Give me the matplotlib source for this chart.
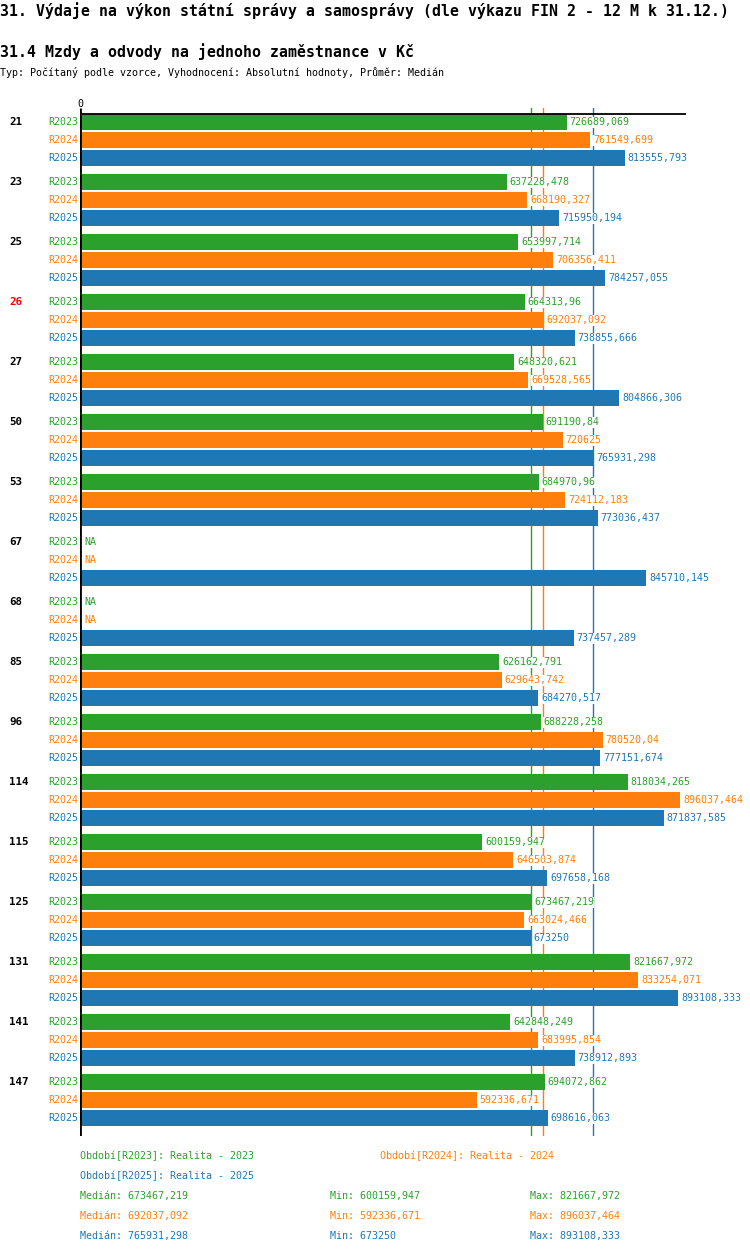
import numpy as np
import matplotlib
matplotlib.use("Agg")
import matplotlib.pyplot as plt

plt.rcParams['font.family'] = ['DejaVu Sans Mono']

# data
groups = ['21', '23', '25', '26', '27', '50', '53', '67', '68', '85', '96',
          '114', '115', '125', '131', '141', '147']
highlight = ['26']
series = ['R2023', 'R2024', 'R2025']
series_names = ['Realita - 2023', 'Realita - 2024', 'Realita - 2025']
colors = ['#2ca02c', '#ff7f0e', '#1f77b4']

r2023 = [726689.069, 637228.478, 653997.714, 664313.96, 648320.621, 691190.84,
         684970.96, np.nan, np.nan, 626162.791, 688228.258, 818034.265,
         600159.947, 673467.219, 821667.972, 642848.249, 694072.862]
r2024 = [761549.699, 668190.327, 706356.411, 692037.092, 669528.565, 720625,
         724112.183, np.nan, np.nan, 629643.742, 780520.04, 896037.464,
         646503.874, 663024.466, 833254.071, 683995.854, 592336.671]
r2025 = [813555.793, 715950.194, 784257.055, 738855.666, 804866.306, 765931.298,
         773036.437, 845710.145, 737457.289, 684270.517, 777151.674, 871837.585,
         697658.168, 673250, 893108.333, 738912.893, 698616.063]
values = [r2023, r2024, r2025]

W, H = 750, 1254


def fmt(v):
    s = f"{v:.3f}".rstrip('0').rstrip('.')
    return s.replace('.', ',')


def fx(px):
    return px / W


def fy(py):
    return 1 - py / H


fig = plt.figure(figsize=(7.5, 12.54), dpi=100)

# axes in pixel units: x from 80 to 686, y from 108 to 1136
ax_top, ax_bot = 108, 1136
ax = fig.add_axes([fx(80), fy(ax_bot), fx(686) - fx(80), (ax_bot - ax_top) / H])
ax.set_xlim(0, 905000)
ax.set_ylim(ax_bot - 114, ax_top - 114)
ax.axis('off')

# axis lines
ax.plot([0, 0], [ax_top - 114, ax_bot - 114], color='black', lw=2, zorder=5,
        solid_capstyle='butt')
ax.axhline(0, color='black', lw=1.3, zorder=5)
ax.text(0, -5, '0', ha='center', va='bottom', fontsize=7.2)

# median lines
for vals, c in zip(values, colors):
    ax.axvline(np.nanmedian(vals), color=c, lw=1, zorder=1)

group_step, bar_step, bar_h = 60, 18, 16
for i, g in enumerate(groups):
    y0 = 8 + group_step * i
    ax.annotate(g, xy=(0, y0), xycoords=('axes fraction', 'data'),
                xytext=(-71, 0), textcoords='offset pixels',
                ha='left', va='center', fontsize=7.8, fontweight='bold',
                color='red' if g in highlight else 'black')
    for j, (s, vals, c) in enumerate(zip(series, values, colors)):
        y = y0 + bar_step * j
        ax.annotate(s, xy=(0, y), xycoords=('axes fraction', 'data'),
                    xytext=(-2, 0), textcoords='offset pixels',
                    ha='right', va='center', fontsize=7.2, color=c)
        v = vals[i]
        if np.isnan(v):
            ax.annotate('NA', xy=(0, y), xycoords='data',
                        xytext=(4, 0), textcoords='offset pixels',
                        ha='left', va='center', fontsize=7.2, color=c)
            continue
        ax.barh(y, v, height=bar_h, color=c, zorder=3)
        ax.annotate(fmt(v), xy=(v, y), xycoords='data',
                    xytext=(3, 0), textcoords='offset pixels',
                    ha='left', va='center', fontsize=7.2, color=c, zorder=4,
                    bbox=dict(boxstyle='square,pad=0.05', fc='white', ec='none'))

# titles
fig.text(fx(0), fy(11), '31. Výdaje na výkon státní správy a samosprávy (dle výkazu FIN 2 - 12 M k 31.12.)',
         ha='left', va='center', fontsize=10.75, fontweight='bold')
fig.text(fx(0), fy(52), '31.4 Mzdy a odvody na jednoho zaměstnance v Kč',
         ha='left', va='center', fontsize=10.75, fontweight='bold')
fig.text(fx(0), fy(73), 'Typ: Počítaný podle vzorce, Vyhodnocení: Absolutní hodnoty, Průměr: Medián',
         ha='left', va='center', fontsize=7.2)

# legend / summary
leg_pos = [(80, 1156), (380, 1156), (80, 1176)]
for (px, py), s, name, c in zip(leg_pos, series, series_names, colors):
    fig.text(fx(px), fy(py), f'Období[{s}]: {name}', ha='left', va='center',
             fontsize=7.2, color=c)

for k, (vals, c) in enumerate(zip(values, colors)):
    py = 1196 + 20 * k
    fig.text(fx(80), fy(py), f'Medián: {fmt(np.nanmedian(vals))}', ha='left',
             va='center', fontsize=7.2, color=c)
    fig.text(fx(330), fy(py), f'Min: {fmt(np.nanmin(vals))}', ha='left',
             va='center', fontsize=7.2, color=c)
    fig.text(fx(530), fy(py), f'Max: {fmt(np.nanmax(vals))}', ha='left',
             va='center', fontsize=7.2, color=c)

fig.savefig('out.png', dpi=100, facecolor='white')
